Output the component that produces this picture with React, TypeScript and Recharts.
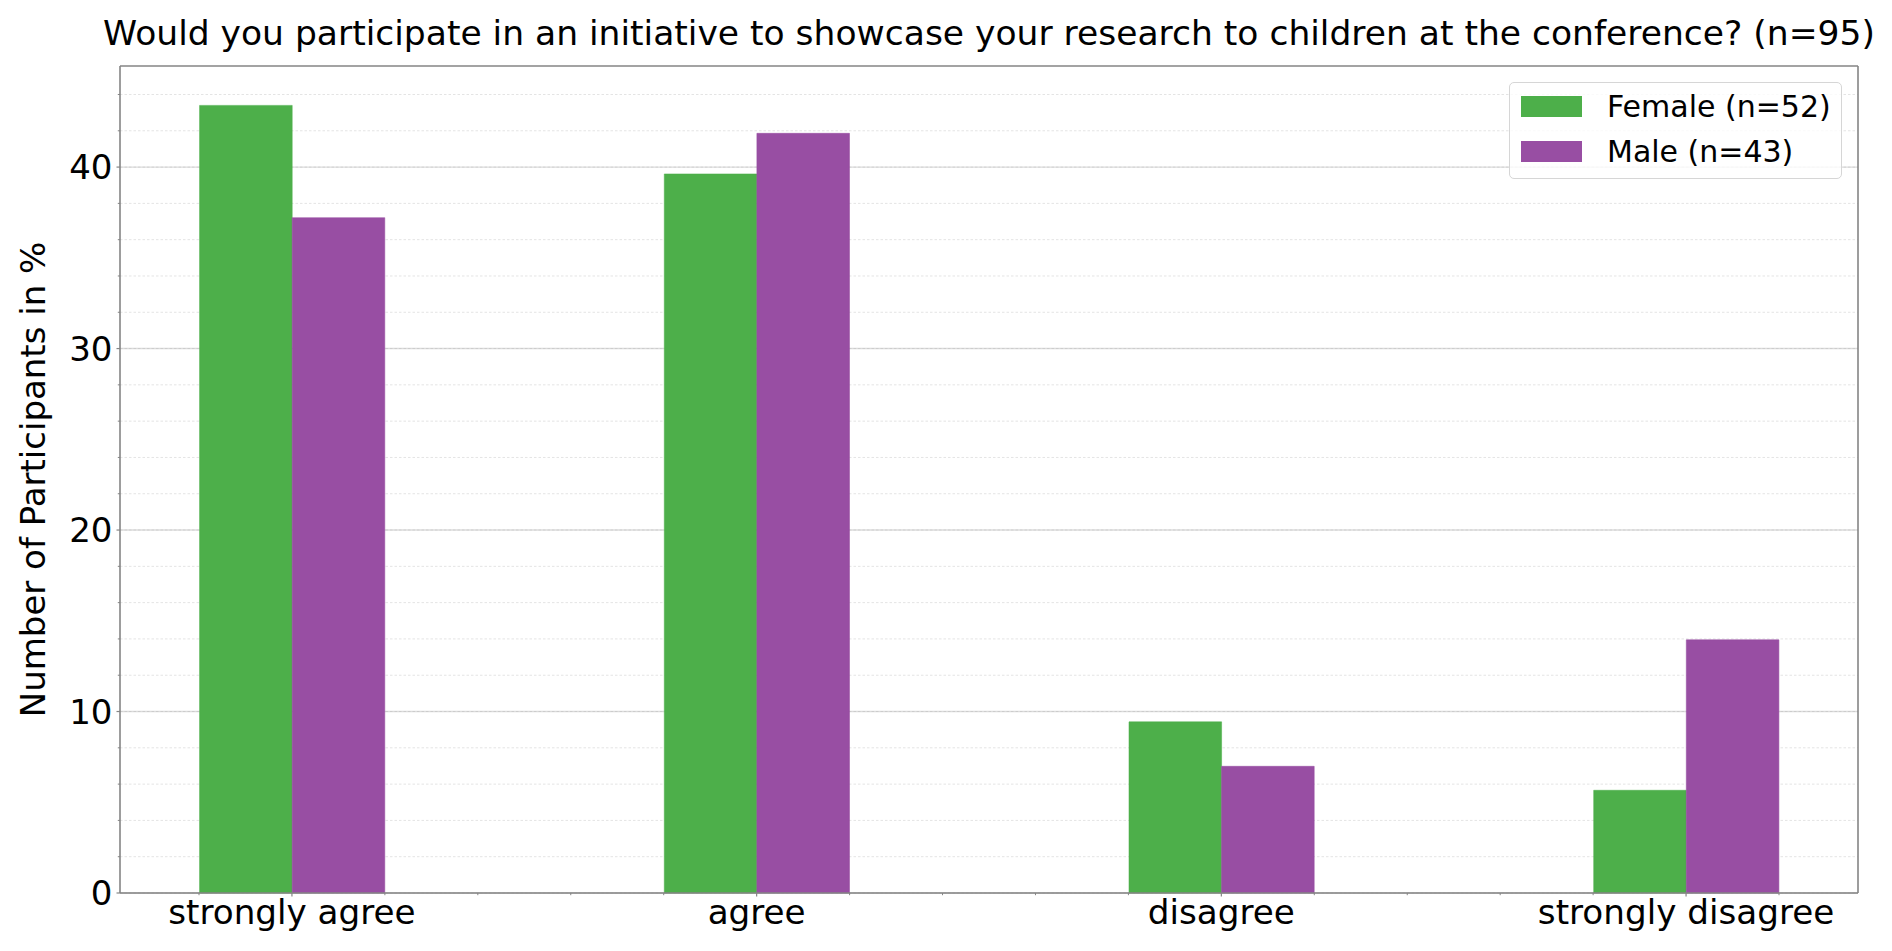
import { BarChart, Bar, XAxis, YAxis, CartesianGrid, Legend, ReferenceLine } from "recharts";

const categories = ["strongly agree", "agree", "disagree", "strongly disagree"];
const femaleShare = [43.4, 39.62, 9.43, 5.66];
const maleShare = [37.21, 41.86, 6.98, 13.95];

const yMajorTicks = [0, 10, 20, 30, 40];
const yMinorTicks = [0, 2, 4, 6, 8, 10, 12, 14, 16, 18, 20, 22, 24, 26, 28, 30, 32, 34, 36, 38, 40, 42, 44];
const xTicks = [-0.2, 0, 0.2, 0.4, 0.6, 0.8, 1, 1.2, 1.4, 1.6, 1.8, 2, 2.2, 2.4, 2.6, 2.8, 3, 3.2];
const xDomain = [-0.37, 3.37];
const yDomain = [0, 45.57];

const data = categories.map((name, i) => ({
  pos: i,
  name,
  female: femaleShare[i],
  male: maleShare[i],
}));

const FONT = "'DejaVu Sans', sans-serif";
const GREEN = "#4daf4a";
const PURPLE = "#984ea3";
const SPINE = "#858585";

function XTick({ x, y, payload }: any) {
  const v = Math.round(payload.value * 10) / 10;
  const isMajor = Number.isInteger(v);
  if (!isMajor) {
    return <line x1={x} x2={x} y1={y} y2={y + 2.2} stroke={SPINE} strokeWidth={1} />;
  }
  return (
    <g>
      <line x1={x} x2={x} y1={y} y2={y + 3.5} stroke={SPINE} strokeWidth={1.2} />
      <text x={x} y={y + 31} textAnchor="middle" fontSize={34.2} fontFamily={FONT} fill="#000">
        {categories[v]}
      </text>
    </g>
  );
}

function YTick({ x, y, payload }: any) {
  if (payload.value % 10 !== 0) {
    return <line x1={x - 2.2} x2={x} y1={y} y2={y} stroke={SPINE} strokeWidth={1} />;
  }
  return (
    <g>
      <line x1={x - 3.5} x2={x} y1={y} y2={y} stroke={SPINE} strokeWidth={1.2} />
      <text x={x - 7.5} y={y + 12.3} textAnchor="end" fontSize={34} fontFamily={FONT} fill="#000">
        {payload.value}
      </text>
    </g>
  );
}

function YAxisLabel({ viewBox }: any) {
  const cx = viewBox.x + 45;
  const cy = viewBox.y + viewBox.height / 2;
  return (
    <text
      x={cx}
      y={cy}
      transform={`rotate(-90, ${cx}, ${cy})`}
      textAnchor="middle"
      fontSize={34}
      fontFamily={FONT}
      fill="#000"
    >
      Number of Participants in %
    </text>
  );
}

function LegendBox({ payload }: any) {
  return (
    <div
      style={{
        position: "relative",
        width: 333,
        height: 97,
        boxSizing: "border-box",
        border: "1.5px solid #d6d6d6",
        borderRadius: 5,
        background: "rgba(255,255,255,0.8)",
        fontFamily: FONT,
      }}
    >
      {(payload || []).map((entry: any, i: number) => (
        <div key={entry.value}>
          <div
            style={{
              position: "absolute",
              left: 11,
              top: 13 + i * 44.5,
              width: 61,
              height: 21,
              background: entry.color,
            }}
          />
          <div
            style={{
              position: "absolute",
              left: 97,
              top: 6 + i * 44.5,
              fontSize: 30,
              lineHeight: "36px",
              color: "#000",
              whiteSpace: "nowrap",
            }}
          >
            {entry.value}
          </div>
        </div>
      ))}
    </div>
  );
}

export default function App() {
  return (
    <div style={{ position: "absolute", left: 0, top: 0, width: 1892, height: 951, background: "#fff", fontFamily: FONT }}>
      <BarChart
        width={1892}
        height={951}
        data={data}
        margin={{ top: 66, right: 34, bottom: 0, left: 0 }}
        barGap={0}
      >
        <CartesianGrid
          vertical={false}
          horizontalValues={yMinorTicks}
          stroke="#e4e4e4"
          strokeWidth={1}
          strokeDasharray="2.5 2"
        />
        <Bar
          dataKey="female"
          name="Female (n=52)"
          fill={GREEN}
          stroke={GREEN}
          strokeOpacity={0.55}
          strokeWidth={1}
          barSize={92.6}
          isAnimationActive={false}
        />
        <Bar
          dataKey="male"
          name="Male (n=43)"
          fill={PURPLE}
          stroke={PURPLE}
          strokeOpacity={0.55}
          strokeWidth={1}
          barSize={92.6}
          isAnimationActive={false}
        />
        <CartesianGrid
          vertical={false}
          horizontalValues={yMajorTicks}
          stroke="#b0b0b0"
          strokeOpacity={0.45}
          strokeWidth={1.4}
        />
        <ReferenceLine y={yDomain[1]} stroke={SPINE} strokeWidth={1.6} />
        <ReferenceLine x={xDomain[1]} stroke={SPINE} strokeWidth={1.6} />
        <XAxis
          dataKey="pos"
          type="number"
          domain={xDomain}
          ticks={xTicks}
          interval={0}
          height={58}
          axisLine={{ stroke: SPINE, strokeWidth: 1.6 }}
          tickLine={false}
          tickSize={0}
          tickMargin={0}
          tick={<XTick />}
        />
        <YAxis
          type="number"
          domain={yDomain}
          ticks={yMinorTicks}
          interval={0}
          width={120}
          axisLine={{ stroke: SPINE, strokeWidth: 1.6 }}
          tickLine={false}
          tickSize={0}
          tickMargin={0}
          tick={<YTick />}
          label={<YAxisLabel />}
        />
        <Legend
          layout="vertical"
          align="center"
          verticalAlign="middle"
          wrapperStyle={{ left: 1509, top: 82, width: 333, height: 97 }}
          content={<LegendBox />}
        />
      </BarChart>
      <svg width={1892} height={60} style={{ position: "absolute", left: 0, top: 0 }}>
        <text x={989} y={45} textAnchor="middle" fontSize={34.5} fontFamily={FONT} fill="#000">
          Would you participate in an initiative to showcase your research to children at the conference? (n=95)
        </text>
      </svg>
    </div>
  );
}
